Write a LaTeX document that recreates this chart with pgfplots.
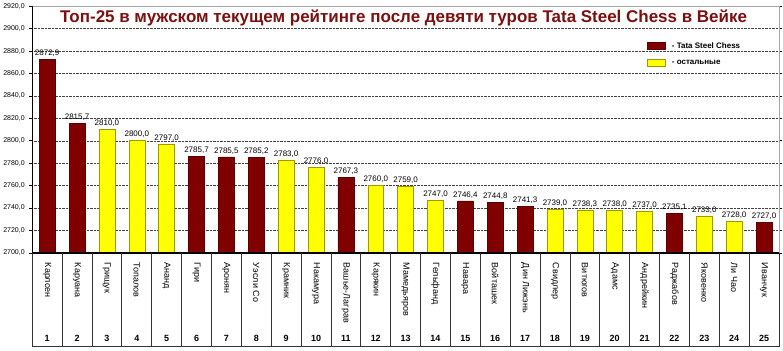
\documentclass[border=0pt]{standalone}
\usepackage{pgfplots}
\pgfplotsset{compat=1.18}
\usepackage{fontspec}
\setmainfont{Liberation Sans}
\definecolor{tata}{HTML}{800000}
\definecolor{tataedge}{HTML}{5A0000}
\definecolor{oth}{HTML}{FFFF00}
\definecolor{othedge}{HTML}{9A9A00}
\definecolor{ttl}{HTML}{7A1010}
\begin{document}
\begin{tikzpicture}[x=1pt,y=1pt]
\path[fill=white] (0,0) rectangle (783,351);
\begin{axis}[
  at={(31pt,98pt)}, anchor=south west,
  scale only axis, width=748pt, height=247pt,
  xmin=0.5, xmax=25.5, ymin=2700, ymax=2920,
  ybar, bar width=16pt, bar shift=0pt,
  ytick={2700,2720,...,2920},
  yticklabel={\pgfmathprintnumber[fixed,fixed zerofill,precision=1,use comma,1000 sep={},assume math mode=true]{\tick}},
  yticklabel style={font=\fontsize{7}{8}\selectfont, xshift=-1pt},
  xtick={1,...,25},
  xticklabels={Карлсен,Каруана,Грищук,Топалов,Ананд,Гири,Аронян,Уэсли Со,Крамник,Накамура,Вашье-Лаграв,Карякин,Мамедьяров,Гельфанд,Навара,Войташек,Дин Лижэнь,Свидлер,Витюгов,Адамс,Андрейкин,Раджабов,Яковенко,Ли Чао,Иванчук},
  xticklabel style={rotate=-90, anchor=west, font=\fontsize{9}{10}\selectfont, inner sep=0pt, xshift=-1pt},
  xticklabel shift={8pt},
  x tick style={draw=none},
  y tick style={black, line width=0.5pt},
  tick align=outside, major tick length=3pt,
  ymajorgrids, grid style={densely dotted, black!75, line width=0.4pt},
  axis line style={draw=gray!70, line width=0.8pt},
  nodes near coords={\pgfmathprintnumber[fixed,fixed zerofill,precision=1,use comma,1000 sep={},assume math mode=true]{\pgfplotspointmeta}},
  every node near coord/.append style={font=\fontsize{8}{9}\selectfont, black, inner sep=2.5pt},
  legend style={draw=none, fill=none, at={(rel axis cs:0.823,0.862)}, anchor=north west,
    font=\fontsize{8}{9}\selectfont\bfseries, row sep=6pt, inner sep=0pt,
    legend cell align=left},
  legend image code/.code={\draw[#1] (0pt,-3.5pt) rectangle (18pt,3.5pt);},
  clip=false,
]
\addplot[fill=tata, draw=tataedge, line width=0.5pt] coordinates {
  (1,2872.9) (2,2815.7) (6,2785.7) (7,2785.5) (8,2785.2) (11,2767.3)
  (15,2746.4) (16,2744.8) (17,2741.3) (22,2735.1) (25,2727.0)};
\addlegendentry{~~- Tata Steel Chess}
\addplot[fill=oth, draw=othedge, line width=0.5pt] coordinates {
  (3,2810.0) (4,2800.0) (5,2797.0) (9,2783.0) (10,2776.0) (12,2760.0)
  (13,2759.0) (14,2747.0) (18,2739.0) (19,2738.3) (20,2738.0) (21,2737.0)
  (23,2733.0) (24,2728.0)};
\addlegendentry{~~- остальные}
\draw[black, line width=0.8pt] (rel axis cs:0,0) -- (rel axis cs:0,1);
\draw[black, line width=1.4pt] (rel axis cs:0,0) -- (rel axis cs:1,0);
\end{axis}
% category box below the axis
\draw[gray!40!black, line width=0.8pt] (31,98) -- (31,4) -- (779,4) -- (779,98);
\foreach \i in {1,...,24} {
  \draw[black!80, line width=0.8pt] ({31+\i*29.92},98) -- ({31+\i*29.92},4);
}
\foreach \i in {1,...,25} {
  \node[font=\fontsize{9}{10}\selectfont\bfseries, anchor=base] at ({31+(\i-0.5)*29.92},9) {\i};
}
\node[font=\fontsize{17}{19}\selectfont\bfseries, text=ttl] at (403,333.5) {Топ-25 в мужском текущем рейтинге после девяти туров Tata Steel Chess в Вейке};
\end{tikzpicture}
\end{document}
